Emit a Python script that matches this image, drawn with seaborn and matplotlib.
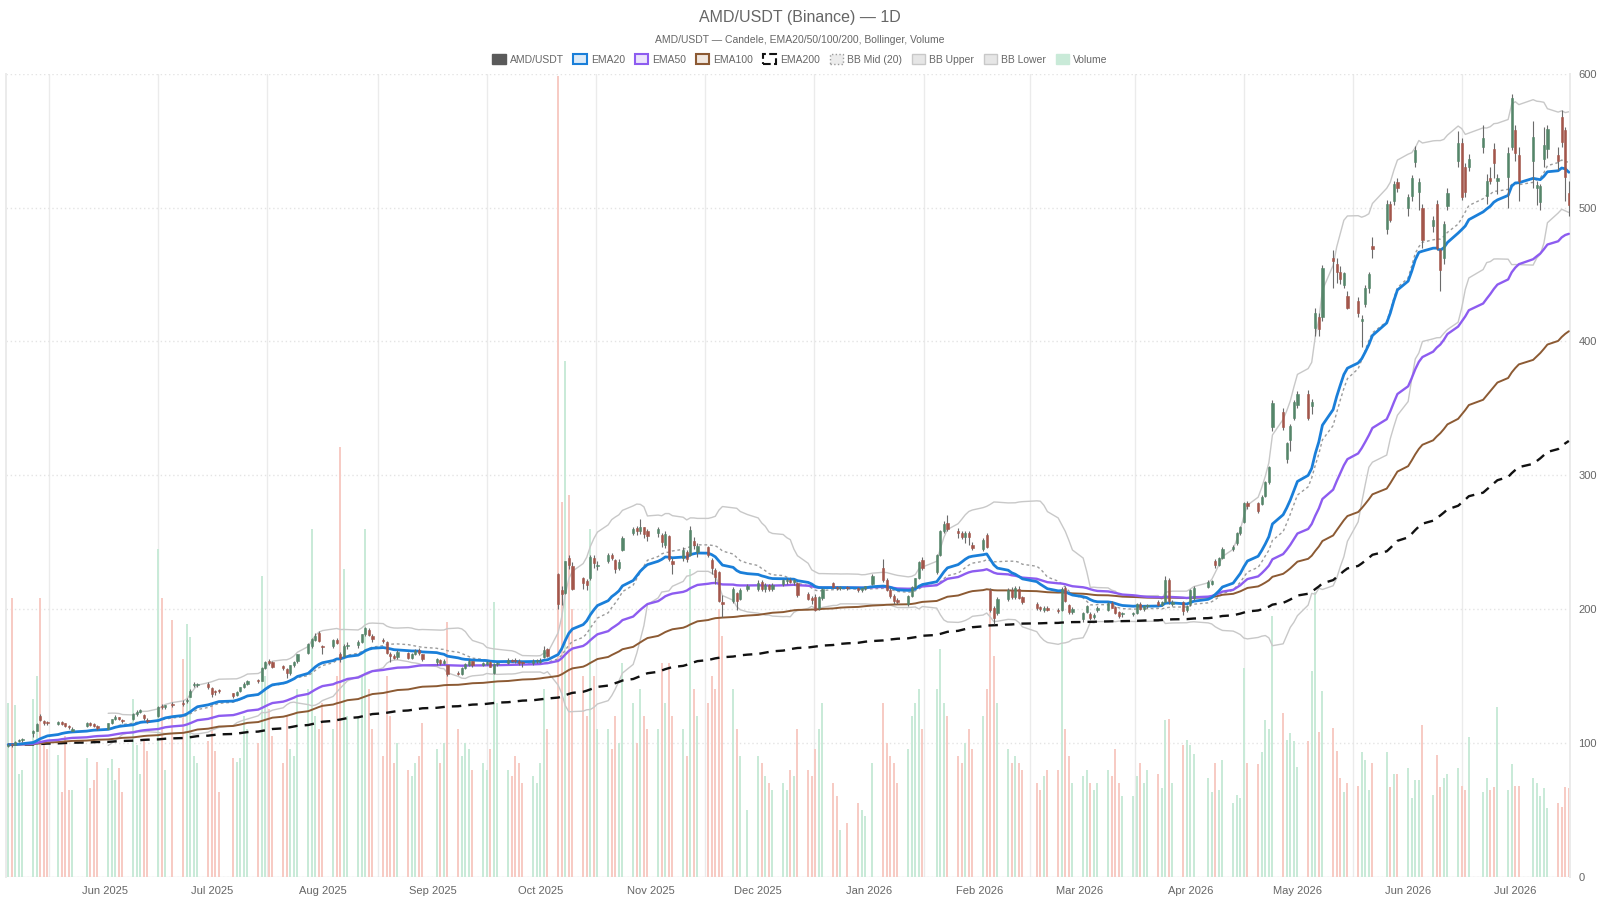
import numpy as np
import pandas as pd
import matplotlib
matplotlib.use("Agg")
import matplotlib.pyplot as plt
import matplotlib.dates as mdates
from matplotlib.patches import Patch
import seaborn as sns

sns.set_theme(style="white")
plt.rcParams['font.family'] = ['Liberation Sans', 'DejaVu Sans']

# ===== DATA (daily candles, one trading week per line) =====

holidays = ["2025-05-26", "2025-06-19", "2025-07-04", "2025-09-01", "2025-11-27", "2025-12-25",
            "2026-01-01", "2026-01-19", "2026-02-16", "2026-04-03", "2026-05-25", "2026-06-19",
            "2026-07-03"]

opens = [
    97.5, 98.5, 98.5, 101.0, 102.0,
    107.0, 109.0, 120.0, 116.0, 115.0,
    114.0, 115.5, 114.5, 112.0, 109.0,
    112.5, 114.5, 114.0, 112.5,
    110.5, 114.5, 117.5, 119.0, 117.0,
    117.5, 121.5, 123.0, 121.0, 116.5,
    120.0, 127.5, 126.5, 128.5,
    130.0, 131.0, 134.5, 143.5, 143.0,
    144.0, 141.0, 138.5, 139.0,
    137.0, 135.5, 138.5, 142.0, 144.0,
    146.5, 146.5, 156.0, 161.0, 160.5,
    157.5, 155.0, 152.0, 158.0, 161.0,
    167.0, 172.5, 177.0, 182.0, 172.5,
    172.0, 176.5, 166.0, 165.0, 172.5,
    173.0, 175.5, 181.0, 184.0, 180.0,
    177.0, 175.5, 166.0, 164.5, 164.0,
    167.0, 163.5, 166.5, 169.0, 166.0,
    160.5, 162.0, 160.0, 158.0,
    152.5, 151.5, 156.0, 158.5, 161.0,
    158.5, 159.0, 160.5, 152.5, 159.0,
    159.5, 162.0, 161.5, 161.0, 160.0,
    160.0, 161.0, 160.5, 164.0, 170.0,
    226.0, 214.0, 212.0, 238.0, 232.0,
    223.0, 221.0, 223.0, 238.0, 232.0,
    236.0, 240.0, 236.5, 230.5, 244.0,
    257.0, 260.5, 258.5, 261.0, 258.0,
    256.5, 255.0, 248.0, 254.5, 236.0,
    238.0, 242.5, 240.0, 251.0, 242.5,
    246.0, 236.5, 229.0, 227.5, 205.0,
    206.0, 212.0, 207.5, 215.0,
    215.0, 220.5, 215.0, 218.0, 215.0,
    218.5, 221.0, 222.0, 220.0, 219.5,
    211.0, 208.5, 209.0, 200.5, 208.0,
    219.5, 216.5, 215.5, 216.0,
    215.5, 214.5, 215.5, 218.5,
    231.0, 222.0, 214.0, 210.0, 206.5,
    203.5, 210.0, 216.5, 223.0, 236.5,
    228.0, 240.5, 258.5, 264.0,
    258.0, 256.5, 254.0, 257.0, 248.0,
    245.0, 255.0, 214.0, 200.5, 197.0,
    207.5, 214.0, 209.0, 215.0, 209.0,
    204.0, 201.5, 199.5, 201.0,
    199.5, 199.0, 216.0, 203.0, 198.0,
    192.5, 198.0, 196.5, 194.0, 199.0,
    199.5, 204.5, 201.5, 197.5, 196.0,
    196.5, 197.0, 203.5, 200.0, 202.0,
    205.0, 203.0, 205.5, 222.0, 203.5,
    205.0, 199.0, 203.5, 208.0,
    216.5, 219.0, 236.0, 233.0, 238.0,
    245.0, 249.0, 256.5, 265.0, 279.5,
    279.0, 278.5, 284.5, 295.0, 336.0,
    347.0, 312.0, 326.5, 343.0, 352.5,
    361.0, 352.0, 410.0, 418.0, 418.0,
    462.0, 458.0, 452.0, 442.0, 434.0,
    430.0, 415.0, 428.0, 440.0, 471.0,
    484.0, 503.0, 505.0, 519.0,
    500.0, 509.0, 534.0, 512.0, 500.0,
    486.0, 503.0, 468.0, 462.0, 501.0,
    535.0, 548.0, 530.0, 530.0,
    545.0, 509.0, 522.0, 544.0, 520.0,
    523.0, 545.0, 558.0, 539.0,
    535.0, 515.0, 504.0, 536.0, 544.0,
    539.0, 568.0, 558.0, 511.0,
]

highs = [
    99.5, 99.5, 101.5, 103.0, 103.5,
    109.5, 114.5, 121.8, 117.0, 116.0,
    116.5, 116.5, 115.0, 113.0, 111.5,
    115.5, 115.5, 115.0, 113.0,
    115.0, 118.0, 121.0, 119.5, 117.5,
    122.0, 124.5, 125.5, 121.5, 118.5,
    127.5, 129.0, 128.5, 130.5,
    132.0, 133.5, 140.0, 145.5, 145.0,
    145.5, 141.5, 139.5, 140.0,
    137.5, 138.5, 142.0, 145.5, 147.0,
    148.0, 156.5, 161.5, 162.5, 161.0,
    158.5, 156.0, 158.5, 161.0, 166.5,
    174.5, 178.5, 182.0, 183.5, 173.0,
    177.5, 178.5, 168.0, 173.5, 175.0,
    176.5, 181.5, 186.5, 185.5, 181.0,
    178.5, 176.0, 167.5, 166.0, 169.0,
    168.0, 167.0, 170.0, 170.5, 166.5,
    163.5, 162.5, 162.5, 158.5,
    154.0, 156.5, 160.0, 162.5, 161.5,
    160.5, 161.5, 161.0, 159.5, 160.5,
    163.5, 163.0, 163.5, 162.5, 161.0,
    162.5, 163.0, 163.5, 172.0, 171.0,
    227.0, 217.5, 236.0, 240.0, 235.0,
    224.0, 222.5, 240.5, 240.0, 236.0,
    241.5, 242.0, 237.0, 237.0, 254.5,
    261.0, 262.0, 267.0, 261.5, 259.5,
    261.0, 257.0, 258.5, 255.0, 238.0,
    246.5, 244.0, 262.0, 253.5, 249.0,
    247.0, 238.0, 231.0, 228.5, 210.5,
    216.5, 213.0, 215.5, 218.5,
    221.5, 222.0, 219.5, 219.0, 219.5,
    222.5, 223.0, 223.0, 222.5, 220.0,
    213.0, 210.0, 211.0, 210.0, 216.0,
    220.5, 217.5, 217.0, 217.5,
    216.5, 216.0, 217.5, 226.0,
    237.0, 223.0, 215.5, 211.0, 208.0,
    210.5, 217.0, 223.5, 236.0, 238.5,
    241.0, 259.0, 266.0, 270.0,
    260.5, 258.0, 258.0, 258.5, 250.0,
    253.0, 256.5, 216.0, 202.0, 209.0,
    215.5, 216.5, 217.0, 217.5, 210.0,
    205.0, 202.5, 202.0, 202.5,
    201.0, 216.5, 217.0, 204.0, 201.5,
    198.0, 203.0, 197.5, 197.0, 202.0,
    205.5, 206.0, 202.5, 198.5, 198.0,
    198.0, 204.5, 205.0, 203.0, 204.0,
    206.5, 206.0, 224.5, 223.0, 207.0,
    206.0, 203.0, 215.0, 217.0,
    221.5, 222.0, 237.5, 239.0, 246.0,
    247.5, 257.5, 262.0, 280.0, 281.0,
    280.0, 285.0, 296.0, 307.0, 356.0,
    350.0, 325.0, 338.0, 356.0, 363.0,
    364.0, 357.0, 425.0, 421.0, 457.0,
    468.0, 462.0, 456.0, 452.0, 438.0,
    433.0, 420.0, 442.0, 452.0, 478.0,
    506.0, 505.0, 520.0, 522.0,
    510.0, 524.0, 546.0, 522.0, 503.0,
    494.0, 506.0, 470.0, 490.0, 515.0,
    557.0, 552.0, 533.0, 540.0,
    562.0, 525.0, 530.0, 548.0, 525.0,
    545.0, 585.0, 562.0, 545.0,
    565.0, 520.0, 518.0, 560.0, 562.0,
    545.0, 573.0, 560.0, 520.0,
]

lows = [
    96.8, 97.0, 98.0, 100.5, 100.8,
    104.0, 108.5, 116.5, 113.5, 113.5,
    113.0, 113.5, 112.0, 110.5, 108.5,
    112.0, 112.5, 111.5, 109.5,
    110.0, 114.0, 117.0, 117.0, 114.5,
    117.0, 120.0, 122.0, 117.0, 114.5,
    119.5, 125.5, 125.5, 127.0,
    127.5, 129.5, 134.0, 141.5, 141.5,
    140.5, 134.5, 136.0, 137.5,
    133.5, 135.0, 138.0, 141.0, 143.5,
    144.5, 146.0, 155.0, 158.5, 156.0,
    154.5, 148.5, 151.0, 156.5, 160.0,
    166.0, 171.0, 176.0, 175.5, 166.5,
    170.5, 173.5, 160.5, 164.0, 170.0,
    171.0, 174.5, 180.0, 179.5, 175.5,
    174.5, 166.0, 160.5, 162.5, 163.0,
    163.0, 162.5, 165.5, 165.5, 161.5,
    158.5, 158.0, 159.0, 150.0,
    150.5, 151.0, 155.5, 157.5, 157.0,
    157.5, 158.5, 156.5, 151.5, 157.5,
    159.0, 160.5, 160.0, 158.5, 157.0,
    158.5, 160.0, 159.5, 163.5, 164.0,
    200.0, 203.0, 211.0, 230.0, 214.0,
    215.0, 214.0, 222.0, 231.0, 229.0,
    234.5, 236.5, 227.0, 229.0, 243.0,
    255.5, 255.0, 256.0, 253.0, 250.5,
    254.0, 246.0, 245.5, 236.0, 226.5,
    236.0, 235.0, 239.5, 245.0, 238.5,
    238.5, 226.0, 218.5, 205.0, 194.0,
    204.5, 199.5, 206.5, 213.5,
    213.5, 213.5, 213.0, 213.5, 213.5,
    217.0, 219.0, 219.5, 218.0, 209.0,
    206.5, 204.0, 198.5, 199.5, 207.0,
    215.5, 214.5, 214.5, 214.5,
    212.5, 212.5, 214.5, 218.0,
    220.5, 213.5, 208.5, 204.0, 203.5,
    202.0, 209.0, 215.5, 222.5, 229.5,
    226.5, 239.5, 256.5, 258.5,
    253.0, 252.0, 249.0, 247.5, 244.0,
    243.5, 245.5, 197.5, 189.0, 195.5,
    206.0, 207.5, 207.5, 207.5, 204.0,
    199.0, 198.5, 198.0, 198.5,
    197.0, 198.5, 205.0, 196.5, 196.5,
    190.5, 197.0, 192.0, 192.5, 197.5,
    198.5, 200.5, 196.5, 193.5, 194.0,
    195.0, 196.5, 199.0, 198.5, 200.5,
    202.0, 202.0, 205.0, 204.0, 202.0,
    195.5, 198.0, 202.5, 207.0,
    215.5, 218.0, 230.5, 232.0, 237.0,
    243.5, 248.0, 255.5, 264.0, 275.0,
    272.0, 277.5, 283.5, 293.5, 333.0,
    334.0, 309.0, 318.0, 341.0, 350.0,
    341.0, 346.0, 404.0, 404.0, 415.0,
    440.0, 444.0, 443.0, 440.0, 424.0,
    418.0, 396.0, 426.0, 436.0, 462.0,
    480.0, 489.0, 502.0, 512.0,
    494.0, 505.0, 530.0, 498.0, 470.0,
    482.0, 468.0, 438.0, 458.0, 498.0,
    530.0, 506.0, 508.0, 527.0,
    541.0, 503.0, 518.0, 522.0, 510.0,
    500.0, 543.0, 535.0, 505.0,
    515.0, 502.0, 498.0, 530.0, 537.0,
    528.0, 545.0, 505.0, 494.0,
]

closes = [
    98.6, 98.0, 100.9, 101.7, 102.2,
    108.8, 113.8, 117.4, 114.6, 114.9,
    115.7, 114.3, 112.6, 111.6, 110.3,
    114.6, 113.0, 112.5, 110.7,
    114.6, 117.5, 119.5, 118.0, 116.2,
    121.6, 122.8, 124.2, 118.5, 116.2,
    126.4, 126.9, 128.0, 128.2,
    129.0, 132.0, 139.0, 144.0, 143.8,
    141.9, 136.6, 137.9, 138.5,
    134.8, 138.0, 141.4, 144.2, 146.4,
    146.2, 155.6, 160.1, 159.5, 157.0,
    156.0, 152.0, 158.0, 160.5, 166.5,
    173.7, 177.4, 179.5, 176.3, 171.7,
    176.8, 174.3, 163.1, 172.4, 172.8,
    175.2, 181.0, 185.5, 180.9, 177.5,
    176.1, 166.9, 165.2, 163.7, 167.8,
    163.4, 166.6, 168.6, 167.1, 162.6,
    162.3, 159.9, 161.5, 151.1,
    151.4, 155.8, 158.6, 161.0, 158.0,
    159.0, 160.5, 157.0, 158.6, 159.5,
    162.0, 161.0, 161.0, 160.0, 159.5,
    161.4, 161.8, 161.5, 169.7, 164.7,
    203.7, 211.5, 235.6, 232.9, 214.9,
    219.5, 218.1, 238.6, 234.6, 233.1,
    240.6, 238.0, 230.2, 235.0, 252.9,
    259.7, 258.0, 261.0, 256.1, 254.8,
    259.7, 250.1, 256.3, 237.7, 233.5,
    244.0, 237.5, 258.9, 248.0, 246.8,
    240.5, 230.3, 223.6, 206.0, 203.8,
    215.1, 206.1, 214.2, 217.5,
    219.8, 215.2, 217.6, 215.2, 218.0,
    221.6, 221.8, 220.5, 221.4, 210.8,
    207.5, 207.0, 199.5, 209.0, 215.0,
    216.5, 215.5, 216.2, 215.5,
    214.0, 215.5, 217.0, 224.5,
    221.5, 214.5, 210.0, 206.0, 205.5,
    210.0, 216.5, 223.0, 235.5, 231.0,
    240.0, 258.0, 263.5, 259.5,
    256.5, 253.5, 257.0, 254.0, 245.5,
    251.5, 246.5, 199.0, 193.5, 207.5,
    214.0, 209.0, 215.5, 208.5, 205.5,
    201.0, 200.0, 200.5, 199.5,
    198.5, 215.0, 206.0, 198.0, 200.0,
    197.0, 202.0, 193.0, 195.5, 200.5,
    204.5, 201.0, 197.0, 195.0, 196.5,
    197.0, 203.5, 200.0, 202.5, 203.0,
    203.0, 205.5, 221.5, 206.0, 205.0,
    198.5, 202.0, 214.0, 216.0,
    220.5, 221.0, 233.0, 238.0, 245.0,
    246.5, 257.0, 261.0, 279.0, 277.0,
    273.5, 284.0, 295.0, 306.0, 354.0,
    336.0, 324.0, 337.0, 355.0, 361.0,
    343.0, 355.0, 421.0, 409.0, 455.0,
    460.0, 452.0, 447.0, 451.0, 425.0,
    421.0, 417.0, 440.0, 450.0, 469.0,
    503.0, 491.0, 518.0, 515.0,
    508.0, 522.0, 543.0, 519.0, 476.0,
    491.0, 470.0, 453.0, 488.0, 511.0,
    548.0, 508.0, 512.0, 536.0,
    552.0, 520.0, 520.0, 533.0, 522.0,
    541.0, 582.0, 541.0, 520.0,
    553.0, 517.0, 516.0, 547.0, 559.0,
    535.0, 549.0, 523.0, 502.0,
]

# volume, relative units (hidden axis 0-600)
volumes = [
    130, 208, 128, 77, 80,
    133, 150, 208, 100, 95,
    91, 63, 105, 65, 65,
    89, 66, 72, 86,
    81, 88, 72, 81, 63,
    133, 98, 77, 101, 94,
    245, 208, 80, 192,
    163, 189, 179, 90, 85,
    101, 130, 94, 63,
    89, 86, 89, 120, 110,
    100, 225, 150, 125, 105,
    85, 120, 95, 90, 140,
    140, 260, 120, 110, 130,
    110, 150, 321, 230, 120,
    120, 150, 260, 140, 110,
    90, 150, 120, 85, 100,
    80, 75, 85, 90, 115,
    95, 85, 100, 190,
    110, 90, 100, 95, 80,
    85, 80, 95, 205, 130,
    80, 75, 90, 85, 70,
    75, 70, 85, 140, 110,
    598, 280, 385, 285, 200,
    150, 120, 260, 150, 110,
    110, 95, 120, 100, 160,
    130, 100, 140, 120, 110,
    110, 160, 130, 160, 120,
    110, 90, 230, 140, 120,
    130, 150, 140, 200, 180,
    140, 110, 90, 50,
    90, 85, 75, 70, 65,
    70, 65, 80, 75, 110,
    80, 75, 95, 110, 130,
    70, 60, 35, 40,
    55, 50, 45, 85,
    130, 100, 90, 85, 70,
    95, 120, 130, 140, 110,
    140, 170, 130, 120,
    90, 85, 100, 110, 95,
    120, 140, 200, 165, 130,
    95, 85, 90, 85, 80,
    70, 65, 75, 80,
    80, 205, 110, 90, 70,
    75, 80, 70, 65, 70,
    80, 75, 95, 70, 60,
    60, 75, 85, 70, 80,
    77, 66, 117, 118, 70,
    98, 102, 98, 92,
    74, 63, 85, 65, 87,
    55, 61, 59, 156, 85,
    84, 93, 117, 110, 195,
    122, 102, 107, 101, 82,
    101, 154, 213, 108, 139,
    111, 94, 74, 63, 70,
    68, 93, 87, 65, 85,
    93, 67, 77, 77,
    81, 59, 72, 72, 113,
    61, 91, 67, 74, 77,
    81, 68, 65, 104,
    63, 74, 65, 67, 127,
    65, 84, 68, 68,
    74, 70, 60, 66, 51,
    55, 52, 67, 66,
]

dates = pd.bdate_range("2025-05-05", "2026-07-16")
dates = dates[~dates.isin(pd.to_datetime(holidays))]

df = pd.DataFrame({'open': opens, 'high': highs, 'low': lows,
                   'close': closes, 'volume': volumes}, index=dates)

# indicators
for span in [20, 50, 100, 200]:
    df[f'ema{span}'] = df['close'].ewm(span=span, adjust=False).mean()
df['bb_mid'] = df['close'].rolling(20).mean()
bb_std = df['close'].rolling(20).std(ddof=0)
df['bb_up'] = df['bb_mid'] + 2 * bb_std
df['bb_low'] = df['bb_mid'] - 2 * bb_std

x = mdates.date2num(df.index)
up = df['close'] >= df['open']

GREEN = '#55866a'
RED = '#a3564b'
VOL_GREEN = '#c9ead8'
VOL_RED = '#f7cbc4'

# ===== FIGURE =====
fig = plt.figure(figsize=(16, 9), dpi=100)
ax_vol = fig.add_axes([0.004, 0.026, 0.9772, 0.892])
ax = ax_vol.twinx()

# volume bars behind
ax_vol.bar(x, df['volume'], width=0.55, color=np.where(up, VOL_GREEN, VOL_RED), linewidth=0, zorder=2)
ax_vol.set_ylim(0, 600)
ax_vol.set_yticks(range(0, 601, 100))
ax_vol.tick_params(axis='y', left=False, labelleft=False)
ax_vol.set_axisbelow(True)
ax_vol.yaxis.grid(True, color='#e4e4e4', linestyle=(0, (1, 2)), linewidth=1.0)

# month labels on the 1st, grid lines between them
ax_vol.xaxis.set_major_locator(mdates.MonthLocator())
ax_vol.xaxis.set_major_formatter(mdates.DateFormatter('%b %Y'))
month_starts = pd.date_range("2025-05-01", "2026-08-01", freq='MS')
mids = month_starts[:-1] + (month_starts[1:] - month_starts[:-1]) / 2
ax_vol.set_xticks(mdates.date2num(mids), minor=True)
ax_vol.xaxis.grid(True, which='minor', color='#ebebeb', linewidth=1)
ax_vol.xaxis.grid(False, which='major')
ax_vol.tick_params(axis='x', which='both', length=0, labelsize=8, labelcolor='#666', pad=7)
ax_vol.set_xlim(x[0] - 0.5, x[-1] + 0.3)

# bollinger + emas
sns.lineplot(x=x, y=df['bb_up'].values, ax=ax, color='#c8c8c8', linewidth=1.0, zorder=2)
sns.lineplot(x=x, y=df['bb_low'].values, ax=ax, color='#c8c8c8', linewidth=1.0, zorder=2)
sns.lineplot(x=x, y=df['bb_mid'].values, ax=ax, color='#9b9b9b', linewidth=1.0,
             linestyle=(0, (2, 2)), zorder=2)
sns.lineplot(x=x, y=df['ema200'].values, ax=ax, color='#111111', linewidth=1.7,
             linestyle=(0, (4, 3)), zorder=3)
sns.lineplot(x=x, y=df['ema100'].values, ax=ax, color='#8c5a33', linewidth=1.4, zorder=3)
sns.lineplot(x=x, y=df['ema50'].values, ax=ax, color='#8d5cf0', linewidth=1.7, zorder=3)
sns.lineplot(x=x, y=df['ema20'].values, ax=ax, color='#1a7fd9', linewidth=2.0, zorder=3)

# candles
ccol = np.where(up, GREEN, RED)
ax.vlines(x, df['low'], df['high'], color='#6b6b6b', linewidth=0.8, zorder=4)
body_low = np.minimum(df['open'], df['close'])
body_h = np.maximum((df['close'] - df['open']).abs(), 0.8)
ax.bar(x, body_h, bottom=body_low, width=0.65, color=ccol, edgecolor=ccol, linewidth=0.4, zorder=5)

ax.set_ylim(0, 600)
ax.set_yticks(range(0, 601, 100))
ax.tick_params(axis='y', right=False, length=0, pad=6, labelsize=8, labelcolor='#666')
ax.set_xlim(x[0] - 0.5, x[-1] + 0.3)
ax.set_xlabel('')
ax.set_ylabel('')
ax_vol.set_ylabel('')

for a in [ax, ax_vol]:
    for side in ['top', 'bottom']:
        a.spines[side].set_visible(False)
    a.spines['left'].set_color('#ebebeb')
    a.spines['right'].set_color('#ebebeb')
ax_vol.axhline(0, color='#e4e4e4', linewidth=1, zorder=1)

# titles and legend
fig.text(0.5, 0.981, 'AMD/USDT (Binance) — 1D', ha='center', va='center', fontsize=11.5, color='#666')
fig.text(0.5, 0.956, 'AMD/USDT — Candele, EMA20/50/100/200, Bollinger, Volume',
         ha='center', va='center', fontsize=7.5, color='#666')

handles = [
    Patch(facecolor='#5a5a5a', edgecolor='#5a5a5a'),
    Patch(facecolor='#dbeaf8', edgecolor='#1a7fd9', linewidth=1.5),
    Patch(facecolor='#ece4fc', edgecolor='#8d5cf0', linewidth=1.5),
    Patch(facecolor='#f1e7df', edgecolor='#8c5a33', linewidth=1.5),
    Patch(facecolor='white', edgecolor='#111111', linewidth=1.5, linestyle='--'),
    Patch(facecolor='#ececec', edgecolor='#9b9b9b', linewidth=1.0, linestyle=':'),
    Patch(facecolor='#e6e6e6', edgecolor='#c8c8c8', linewidth=1.0),
    Patch(facecolor='#e6e6e6', edgecolor='#c8c8c8', linewidth=1.0),
    Patch(facecolor=VOL_GREEN, edgecolor=VOL_GREEN),
]
labels = ['AMD/USDT', 'EMA20', 'EMA50', 'EMA100', 'EMA200', 'BB Mid (20)', 'BB Upper', 'BB Lower', 'Volume']
fig.legend(handles, labels, loc='center', bbox_to_anchor=(0.5, 0.934), ncol=9, frameon=False,
           fontsize=7.5, labelcolor='#666', handlelength=1.3, handleheight=1.0,
           columnspacing=0.9, handletextpad=0.4)

fig.savefig('out.png', dpi=100)
